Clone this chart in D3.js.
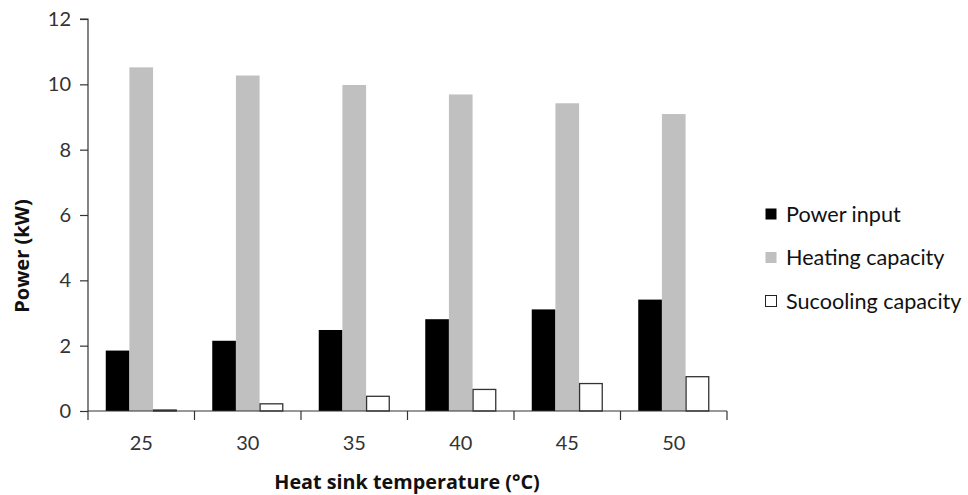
<!DOCTYPE html>
<html><head><meta charset="utf-8">
<script src="https://cdn.jsdelivr.net/npm/d3@7"></script>
<style>body{margin:0;background:#fff;} svg{display:block;} text{font-family:Lato,"Open Sans",sans-serif;}</style>
</head><body><svg id="c" width="968" height="495"></svg>
<script>
const categories = ["25","30","35","40","45","50"];
const seriesNames = ["Power input","Heating capacity","Sucooling capacity"];
const powerInput = [1.85,2.15,2.48,2.81,3.11,3.41];
const heatingCapacity = [10.52,10.27,9.98,9.69,9.42,9.09];
const subcoolingCapacity = [0.03,0.22,0.45,0.66,0.84,1.05];
const yTicks = [0,2,4,6,8,10,12];
const colors = ["#000000","#c0c0c0","#ffffff"];
const strokes = ["none","none","#333"];

const svg = d3.select("#c");
const m = {l:88, r:241, t:19, b:84};
const W = 968, H = 495;
const x = d3.scaleBand().domain(categories).range([m.l, W-m.r]).paddingInner(0).paddingOuter(0);
const y = d3.scaleLinear().domain([0,12]).range([H-m.b, m.t]);
const xi = d3.scaleBand().domain(d3.range(3)).range([0, x.bandwidth()]).paddingInner(0).paddingOuter(0.75);
const data = [powerInput, heatingCapacity, subcoolingCapacity];

data.forEach((vals, s) => {
  svg.append("g").selectAll("rect").data(vals).join("rect")
    .attr("x", (d,i)=>x(categories[i]) + xi(s) + (s===2?0.5:0))
    .attr("y", d=>y(d))
    .attr("width", xi.bandwidth() - (s===2?1:0))
    .attr("height", d=>y(0)-y(d))
    .attr("fill", colors[s])
    .attr("stroke", strokes[s])
    .attr("stroke-width", 1.3);
});

const axisColor = "#333";
const ya = svg.append("g").attr("transform",`translate(${m.l},0)`)
  .call(d3.axisLeft(y).tickValues(yTicks).tickSize(8).tickPadding(9).tickFormat(d3.format("d")));
ya.select(".domain").attr("stroke",axisColor).attr("stroke-width",1.2).attr("d",`M-8,${y(12)}H0V${y(0)}`);
ya.selectAll(".tick line").attr("stroke",axisColor).attr("stroke-width",1.2);
ya.selectAll(".tick text").attr("font-size",20).attr("fill","#333").style("font-family","Lato");

const xa = svg.append("g").attr("transform",`translate(0,${y(0)})`)
  .call(d3.axisBottom(x).tickSize(0).tickPadding(25));
xa.select(".domain").attr("stroke",axisColor).attr("stroke-width",1.2).attr("d",`M${m.l},0H${W-m.r}`);
xa.selectAll(".tick text").attr("font-size",20).attr("fill","#333").style("font-family","Lato");
const bounds = categories.map(c=>x(c)).concat([x(categories[categories.length-1])+x.bandwidth()]);
xa.append("g").selectAll("line").data(bounds).join("line")
  .attr("x1",d=>d).attr("x2",d=>d).attr("y1",0).attr("y2",9)
  .attr("stroke",axisColor).attr("stroke-width",1.2);

svg.append("text").attr("transform",`translate(29,256) rotate(-90)`)
  .attr("text-anchor","middle").attr("font-size",20).attr("font-weight","bold").attr("fill","#111")
  .style("font-family","'Open Sans'")
  .text("Power (kW)");
svg.append("text").attr("x",407).attr("y",489)
  .attr("text-anchor","middle").attr("font-size",19.8).attr("font-weight","bold").attr("fill","#111")
  .style("font-family","'Open Sans'")
  .text("Heat sink temperature (°C)");

const lg = svg.append("g");
seriesNames.forEach((n,i)=>{
  const cy = 214 + i*43.5;
  lg.append("rect").attr("x",765.5).attr("y",cy-5.5).attr("width",11).attr("height",11)
    .attr("fill",colors[i]).attr("stroke", i===2?"#222":"none").attr("stroke-width",1);
  lg.append("text").attr("x",786).attr("y",cy).attr("dy","0.36em").attr("font-size",21.6).attr("fill","#111")
    .text(n);
});
</script></body></html>
